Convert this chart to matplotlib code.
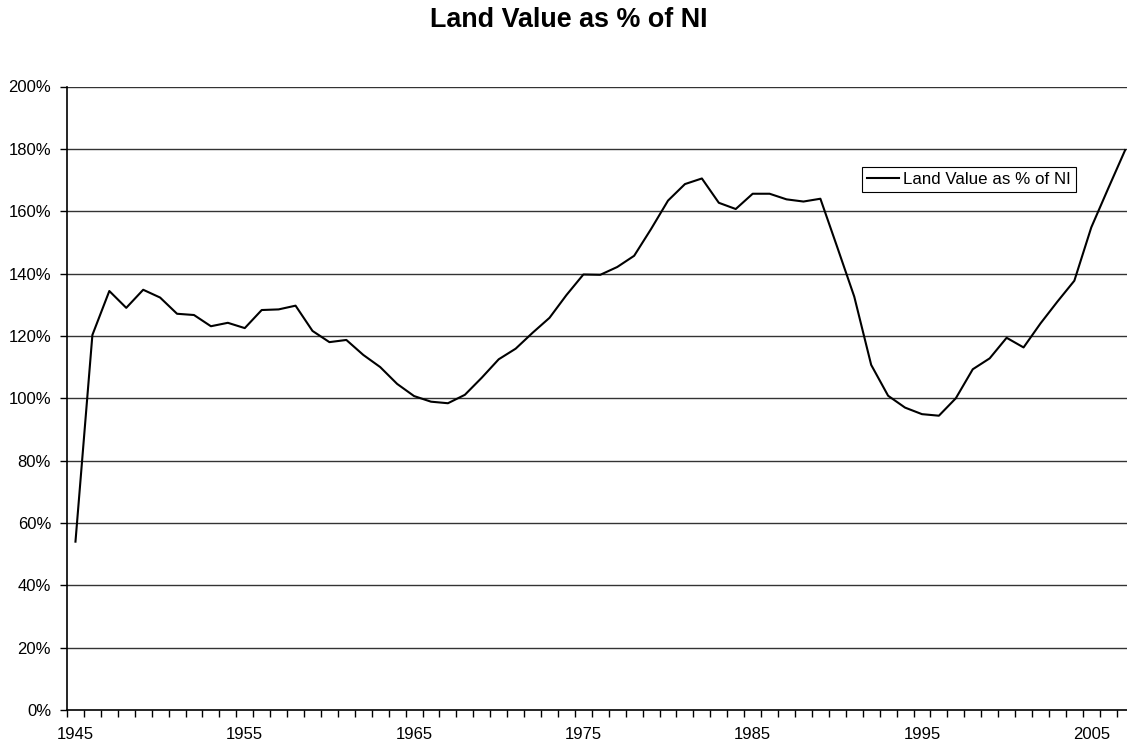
import matplotlib
matplotlib.use('Agg')
from matplotlib import pyplot as plt
from matplotlib.ticker import FixedLocator, FuncFormatter

# data
years = list(range(1945, 2008))
land_value = [54.0, 120.3, 134.4, 129.0, 134.8, 132.3, 127.1, 126.7, 123.1, 124.2,
              122.5, 128.3, 128.5, 129.7, 121.6, 118.0, 118.7, 113.9, 110.0, 104.6,
              100.7, 98.9, 98.4, 101.1, 106.6, 112.5, 115.9, 121.0, 125.8, 133.1,
              139.7, 139.6, 142.1, 145.7, 154.3, 163.4, 168.7, 170.5, 162.7, 160.7,
              165.6, 165.6, 163.8, 163.1, 164.0, 148.4, 132.6, 110.7, 100.8, 97.0,
              94.9, 94.4, 100.0, 109.3, 112.8, 119.4, 116.3, 124.0, 131.0, 137.7,
              154.8, 167.3, 179.6]
label_years = [1945, 1955, 1965, 1975, 1985, 1995, 2005]
y_ticks = [0, 20, 40, 60, 80, 100, 120, 140, 160, 180, 200]

plt.rcParams['font.family'] = ['Liberation Sans', 'DejaVu Sans']

W, H = 1127, 744
fig = plt.figure(figsize=(W / 100, H / 100), dpi=100)
# plot area runs a little past the right edge, as in the original crop
ax = fig.add_axes([67 / W, 34 / H, (1133.6 - 67) / W, (710 - 86.5) / H])

x = list(range(len(years)))
ax.plot(x, land_value, color='black', lw=1.5, label='Land Value as % of NI', zorder=3)

ax.set_xlim(-0.5, len(years) - 0.5)
ax.set_ylim(0, 200)

# horizontal grid lines
for v in y_ticks[1:]:
    ax.axhline(v, color='#333333', lw=1.0, zorder=1)

ax.set_yticks(y_ticks)
ax.yaxis.set_major_formatter(FuncFormatter(lambda v, p: '%d%%' % v))
ax.tick_params(axis='y', direction='out', length=5, width=1, pad=6.5, labelsize=12)

# x labels at category centres, tick marks at category edges
ax.xaxis.set_major_locator(FixedLocator([years.index(y) for y in label_years]))
ax.set_xticklabels([str(y) for y in label_years])
ax.xaxis.set_minor_locator(FixedLocator([i - 0.5 for i in range(len(years) + 1)]))
ax.tick_params(axis='x', which='major', length=0, pad=12, labelsize=12)
ax.tick_params(axis='x', which='minor', direction='out', length=5, width=1)

for s in ['top', 'right']:
    ax.spines[s].set_visible(False)
for s in ['left', 'bottom']:
    ax.spines[s].set_color('black')
    ax.spines[s].set_linewidth(1.2)
    ax.spines[s].set_zorder(4)

leg = ax.legend(loc='upper left', bbox_to_anchor=(862 / W, 1 - 167 / H),
                bbox_transform=fig.transFigure, borderaxespad=0, fontsize=12.2,
                frameon=True, fancybox=False, framealpha=1, edgecolor='black',
                handlelength=1.9, handletextpad=0.2, borderpad=0.3)
leg.get_frame().set_linewidth(0.8)

fig.text(568.5 / W, 1 - 27 / H, 'Land Value as % of NI', ha='center', va='baseline',
         fontsize=19.4, fontweight='bold')

plt.savefig('out.png', dpi=100)
